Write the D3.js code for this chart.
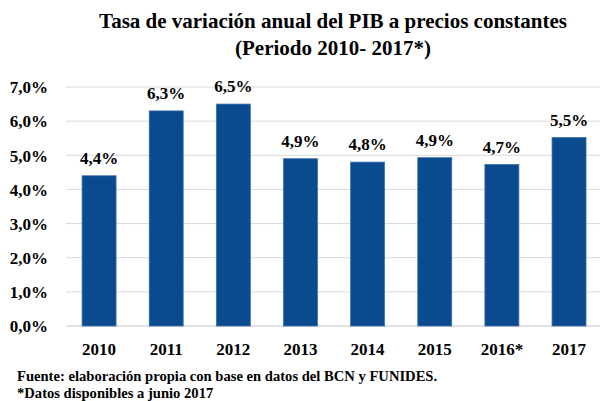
<!DOCTYPE html>
<html><head><meta charset="utf-8">
<script src="https://cdn.jsdelivr.net/npm/d3@7"></script>
<style>body{margin:0;background:#fff}svg{display:block}text{font-family:"Liberation Serif",serif;font-weight:bold;fill:#000}</style>
</head><body><div id="c"></div>
<script>
const years = ["2010","2011","2012","2013","2014","2015","2016*","2017"];
const values = [4.4, 6.3, 6.5, 4.9, 4.8, 4.93, 4.73, 5.52];
const labels = ["4,4%","6,3%","6,5%","4,9%","4,8%","4,9%","4,7%","5,5%"];
const yTicks = [0,1,2,3,4,5,6,7];
const titleLines = ["Tasa de variación anual del PIB a precios constantes","(Periodo 2010- 2017*)"];
const notes = ["Fuente: elaboración propia con base en datos del BCN y FUNIDES.","*Datos disponibles a junio 2017"];

const W=600,H=401;
const svg=d3.select("#c").append("svg").attr("width",W).attr("height",H);
const x=d3.scaleBand().domain(years).range([65.5,602.6]).paddingInner(0.494).paddingOuter(0.247);
const y=d3.scaleLinear().domain([0,7]).range([326,87]);

svg.append("g").selectAll("line").data(yTicks).join("line")
  .attr("x1",66).attr("x2",600).attr("y1",d=>y(d)).attr("y2",d=>y(d))
  .attr("stroke","#d9d9d9").attr("stroke-width",d=>d===0?1.5:1);

const yAxis=svg.append("g").attr("transform","translate(48,0)")
  .call(d3.axisLeft(y).tickValues(yTicks).tickSize(0).tickPadding(0).tickFormat(d=>d.toFixed(1).replace(".",",")+"%"));
yAxis.select(".domain").remove();
yAxis.selectAll("text").attr("font-size",17).attr("dy","0.34em").style("font-family","Liberation Serif").style("font-weight","bold").attr("fill","#000");

svg.append("g").selectAll("rect").data(values).join("rect")
  .attr("x",(d,i)=>x(years[i])).attr("width",x.bandwidth())
  .attr("y",d=>y(d)).attr("height",d=>y(0)-y(d))
  .attr("fill","#0a4a8f").attr("stroke","#3e70ad").attr("stroke-width",0.8);

svg.append("g").selectAll("text").data(values).join("text")
  .attr("x",(d,i)=>x(years[i])+x.bandwidth()/2).attr("y",d=>y(d)-12)
  .attr("text-anchor","middle").attr("font-size",17).text((d,i)=>labels[i]);

const xAxis=svg.append("g").attr("transform","translate(0,339)")
  .call(d3.axisBottom(x).tickSize(0).tickPadding(0));
xAxis.select(".domain").remove();
xAxis.selectAll("text").attr("font-size",17).attr("dy","0.95em").style("font-family","Liberation Serif").style("font-weight","bold").attr("fill","#000");

svg.append("g").selectAll("text").data(titleLines).join("text")
  .attr("x",333).attr("y",(d,i)=>28+i*27).attr("text-anchor","middle").attr("font-size",21).text(d=>d);

svg.append("g").selectAll("text").data(notes).join("text")
  .attr("x",17).attr("y",(d,i)=>381+i*17).attr("font-size",14.6).text(d=>d);
</script></body></html>
